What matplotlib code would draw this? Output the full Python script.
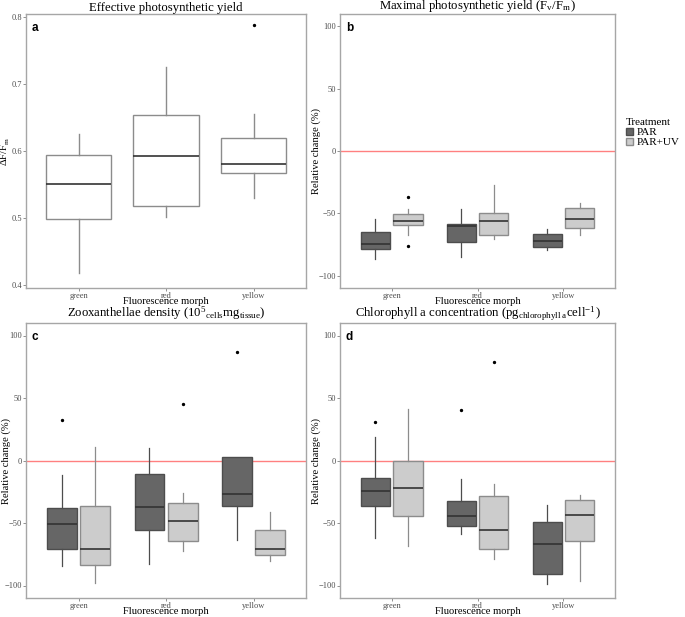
import numpy as np
import matplotlib
matplotlib.use("Agg")
import matplotlib.pyplot as plt
from matplotlib.patches import Patch

plt.rcParams['font.family'] = ['Liberation Serif', 'DejaVu Serif']
plt.rcParams['mathtext.fontset'] = 'stix'

morphs = ["green", "red", "yellow"]
treatments = ["PAR", "PAR+UV"]

# panel a: whisker low, q1, median, q3, whisker high, outliers
a_stats = [
    [0.418, 0.499, 0.551, 0.594, 0.625, []],
    [0.501, 0.518, 0.593, 0.654, 0.725, []],
    [0.530, 0.567, 0.581, 0.619, 0.655, [0.787]],
]

# panels b-d: per morph, PAR then PAR+UV
b_par = [
    [-87.1, -78.8, -74.5, -65.4, -54.2, []],
    [-85.0, -72.7, -60.3, -58.4, -46.9, []],
    [-79.1, -76.9, -72.1, -66.5, -63.0, []],
]
b_uv = [
    [-67.6, -59.5, -56.3, -50.9, -46.9, [-36.7, -76.4]],
    [-71.0, -67.8, -56.6, -50.1, -27.3, []],
    [-67.6, -61.7, -54.7, -46.1, -42.1, []],
]
c_par = [
    [-84.6, -70.6, -50.9, -38.3, -11.9, [32.6]],
    [-82.7, -55.8, -37.2, -10.5, 10.0, []],
    [-63.3, -36.7, -26.4, 2.7, 2.7, [87.1]],
]
c_uv = [
    [-97.6, -83.3, -70.4, -36.4, 10.8, []],
    [-72.0, -64.7, -48.5, -34.0, -26.1, [45.0]],
    [-80.3, -75.7, -70.6, -55.8, -41.0, []],
]
d_par = [
    [-62.0, -36.7, -24.5, -14.3, 18.6, [30.5]],
    [-59.0, -52.0, -44.2, -32.6, -15.1, [40.4]],
    [-98.9, -90.8, -67.1, -48.8, -35.3, []],
]
d_uv = [
    [-68.5, -44.5, -21.6, 0.0, 41.2, []],
    [-78.4, -70.6, -55.3, -28.6, -18.9, [79.2]],
    [-96.2, -64.4, -43.7, -31.5, -27.5, []],
]

titles = {
    "a": "Effective photosynthetic yield",
    "b": "Maximal photosynthetic yield (F$_\\mathregular{v}$/F$_\\mathregular{m}$)",
    "c": "Zooxanthellae density (10$^\\mathregular{5}$$_\\mathregular{cells}$mg$_\\mathregular{tissue}$)",
    "d": "Chlorophyll a concentration (pg$_\\mathregular{chlorophyll\\ a}$cell$^\\mathregular{-1}$)",
}

fills = {"PAR": "#666666", "PAR+UV": "#cccccc"}
edges = {"PAR": "#4d4d4d", "PAR+UV": "#8c8c8c"}
tick_col = "#4d4d4d"

W, H = 685, 617
fig = plt.figure(figsize=(W / 100, H / 100), dpi=100)


def px_axes(left, top, right, bottom):
    ax = fig.add_axes([left / W, 1 - bottom / H, (right - left) / W, (bottom - top) / H])
    ax.px = (left, top, right, bottom)
    return ax


def to_bxp(s):
    return dict(whislo=s[0], q1=s[1], med=s[2], q3=s[3], whishi=s[4], fliers=s[5])


def style(ax, label, ylabel, title, ylab_gap):
    left, top, right, bottom = ax.px
    w, h = right - left, bottom - top
    for sp in ax.spines.values():
        sp.set_color("#a6a6a6")
        sp.set_linewidth(1.0)
    ax.set_xlim(0.4, 3.6)
    ax.set_xticks([1, 2, 3])
    ax.set_xticklabels(morphs)
    ax.tick_params(axis="both", colors="#7f7f7f", labelcolor=tick_col, labelsize=6,
                   length=2, width=0.6, pad=1)
    ax.set_xlabel("Fluorescence morph", fontsize=7.6, va="top")
    ax.xaxis.set_label_coords(0.5, -9.5 / h)
    ax.set_ylabel(ylabel, fontsize=7.6)
    ax.yaxis.set_label_coords(-ylab_gap / w, 0.5)
    ax.set_title(title, fontsize=9.2, pad=1.5)
    ax.text(6 / w, 1 - 8 / h, label, transform=ax.transAxes, fontsize=8.5, fontweight="bold",
            family="Liberation Sans", va="top", ha="left")


def draw_single(ax, stats):
    ax.bxp([to_bxp(s) for s in stats], positions=[1, 2, 3], widths=0.75,
           showcaps=False, patch_artist=True,
           boxprops=dict(facecolor="white", edgecolor="#8c8c8c", linewidth=1.0),
           whiskerprops=dict(color="#8c8c8c", linewidth=1.0),
           medianprops=dict(color="#333333", linewidth=1.2),
           flierprops=dict(marker="o", markersize=1.4, markerfacecolor="black",
                           markeredgecolor="black"))


def draw_pair(ax, par, uv):
    pos = np.arange(1, 4)
    for stats, off, tr in [(par, -0.19, "PAR"), (uv, 0.19, "PAR+UV")]:
        ax.bxp([to_bxp(s) for s in stats], positions=pos + off, widths=0.34,
               showcaps=False, patch_artist=True, manage_ticks=False,
               boxprops=dict(facecolor=fills[tr], edgecolor=edges[tr], linewidth=1.0),
               whiskerprops=dict(color=edges[tr], linewidth=0.9),
               medianprops=dict(color="#333333", linewidth=1.2),
               flierprops=dict(marker="o", markersize=1.4, markerfacecolor="black",
                               markeredgecolor="black"))
    ax.axhline(0, color="#ff8080", linewidth=1.0, zorder=0.5)
    ax.set_ylim(-110, 110)
    ax.set_yticks([-100, -50, 0, 50, 100])


ax_a = px_axes(26, 14, 306, 288)
draw_single(ax_a, a_stats)
ax_a.set_ylim(0.396, 0.804)
ax_a.set_yticks([0.4, 0.5, 0.6, 0.7, 0.8])
ax_a.set_yticklabels(["0.4", "0.5", "0.6", "0.7", "0.8"])
style(ax_a, "a", "ΔF/F$_\\mathregular{m}$$^\\mathregular{'}$", titles["a"], 14)

ax_b = px_axes(340, 14, 615, 288)
draw_pair(ax_b, b_par, b_uv)
style(ax_b, "b", "Relative change (%)", titles["b"], 19)

ax_c = px_axes(26, 323, 306, 598)
draw_pair(ax_c, c_par, c_uv)
style(ax_c, "c", "Relative change (%)", titles["c"], 15)

ax_d = px_axes(340, 323, 615, 598)
draw_pair(ax_d, d_par, d_uv)
style(ax_d, "d", "Relative change (%)", titles["d"], 19)

handles = [Patch(facecolor=fills[t], edgecolor=edges[t], label=t) for t in treatments]
fig.legend(handles=handles, title="Treatment", loc="upper left",
           bbox_to_anchor=(626 / W, 1 - 118 / H), frameon=False, fontsize=8,
           title_fontsize=8, handlelength=0.6, handleheight=0.6, handletextpad=0.4,
           labelspacing=0.05, alignment="left", borderaxespad=0, borderpad=0)

fig.savefig("out.png", dpi=100)
